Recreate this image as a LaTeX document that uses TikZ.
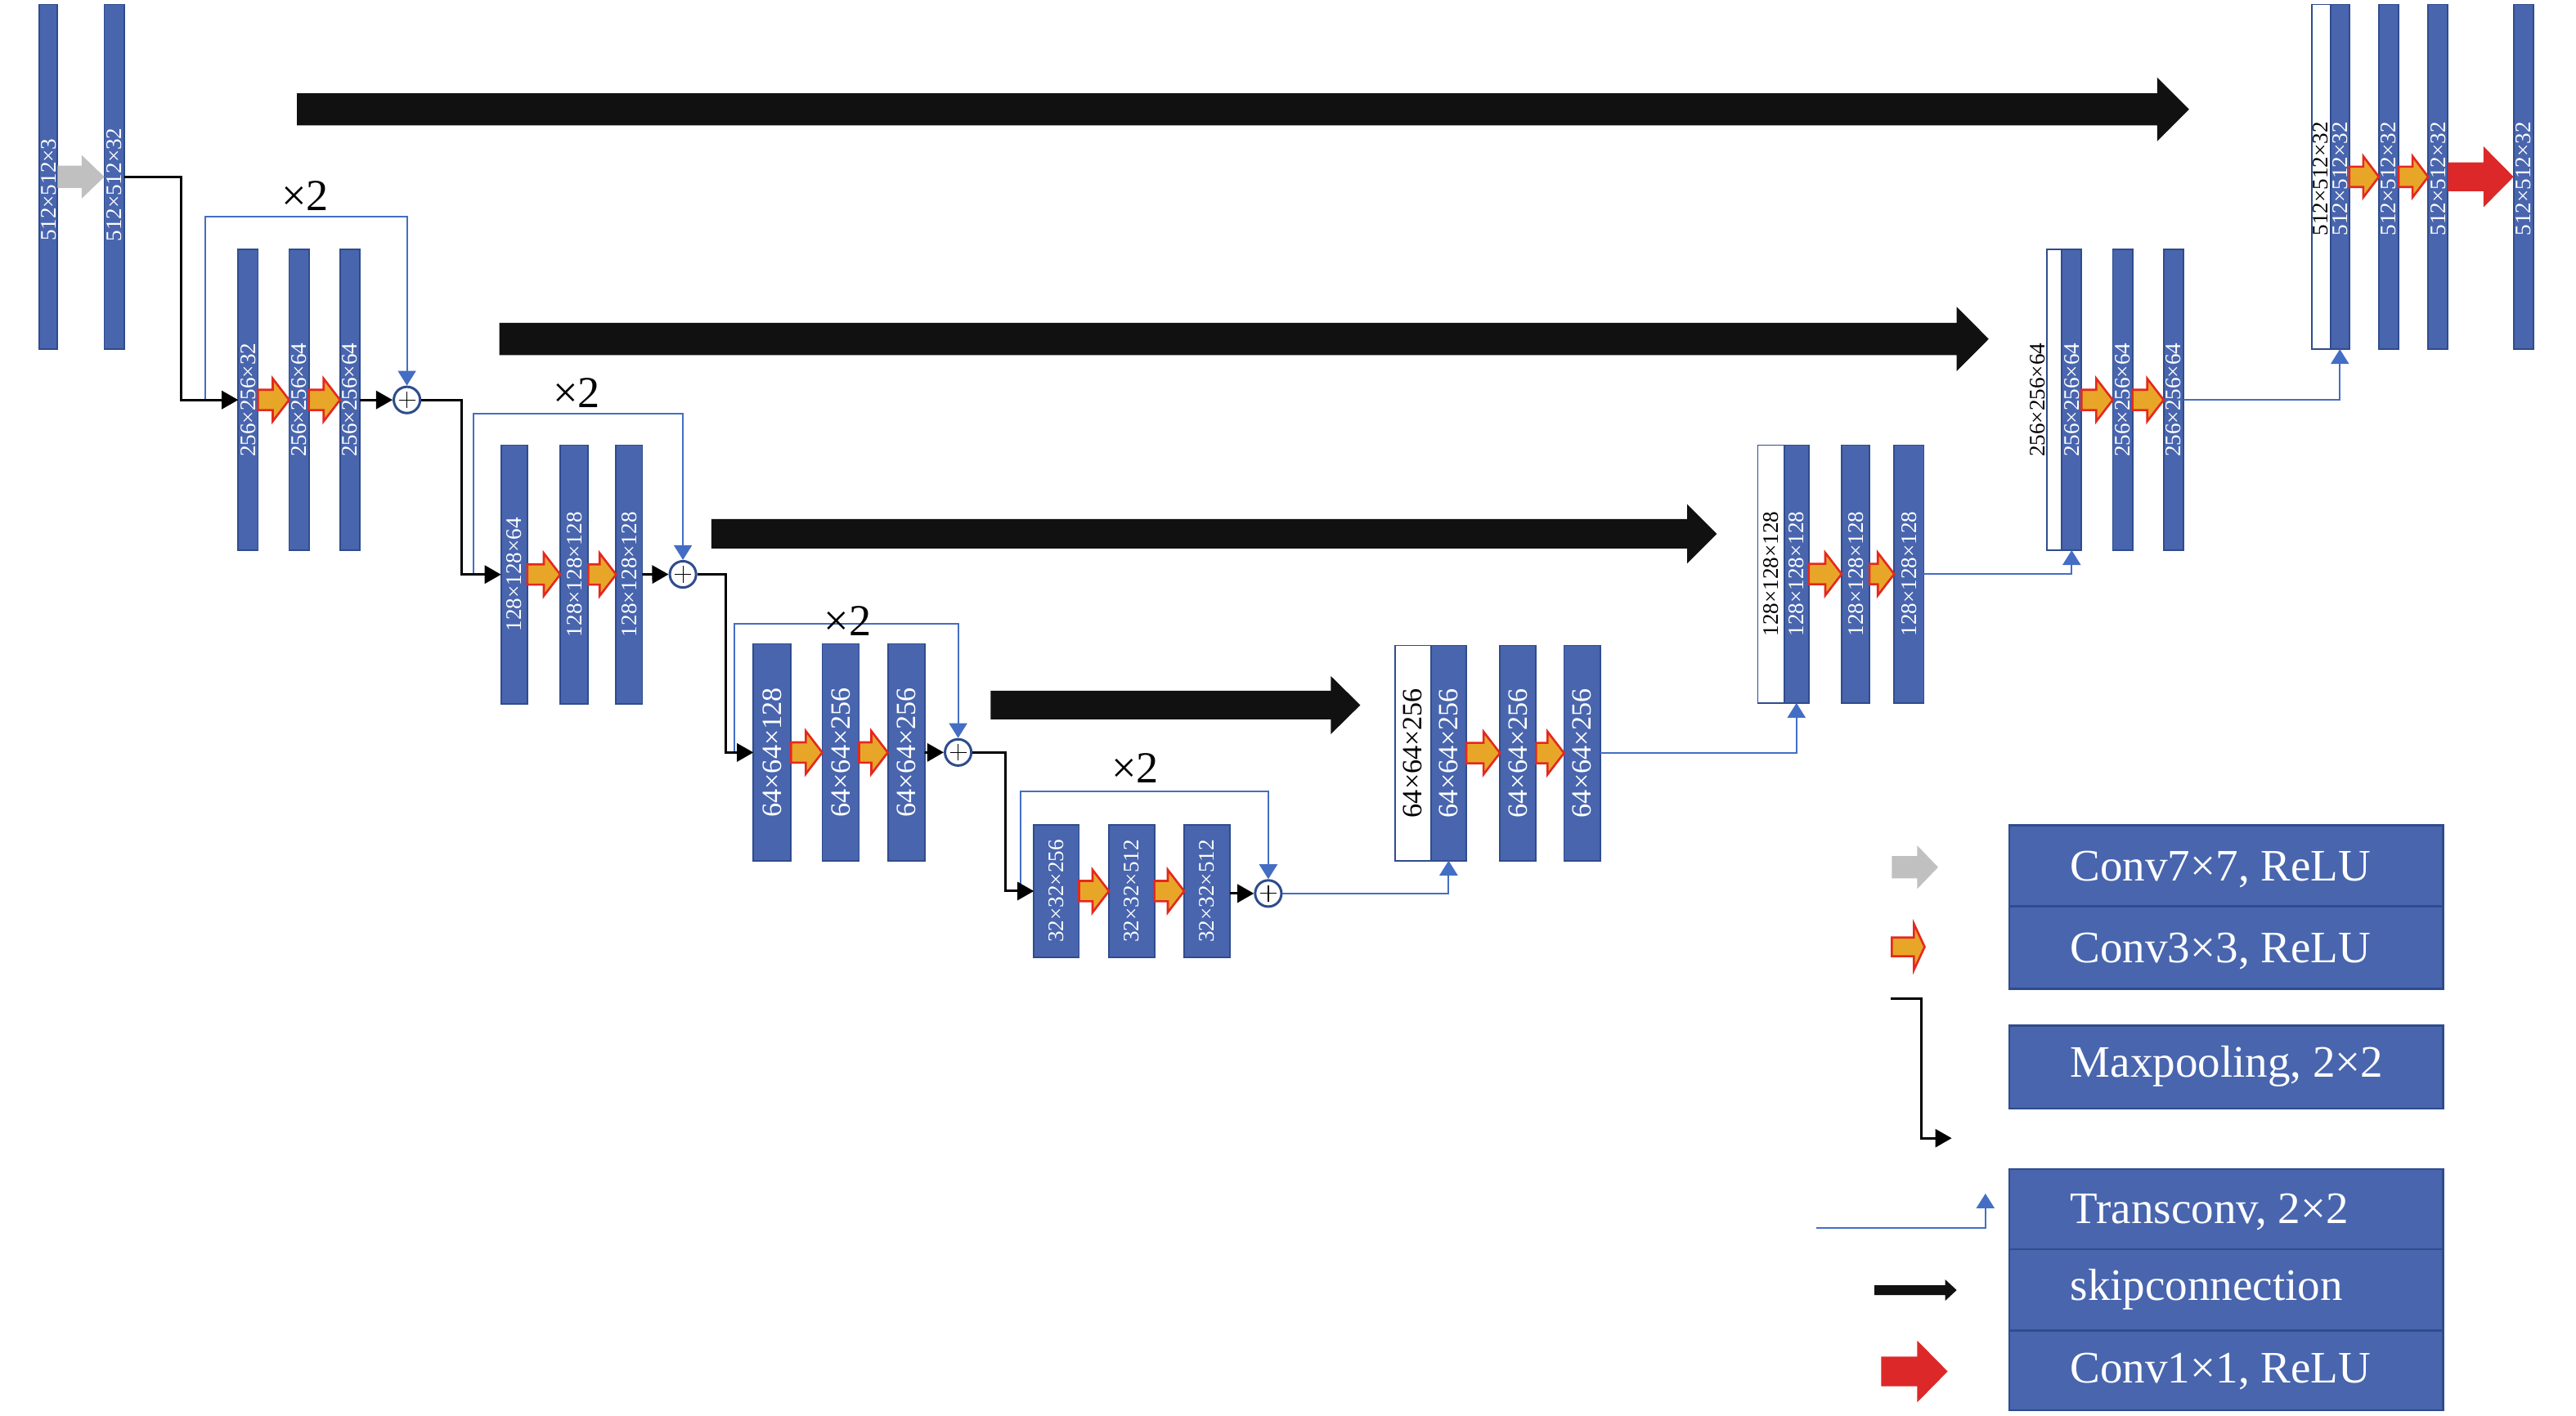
\documentclass[tikz,border=0pt]{standalone}
\usepackage{fontspec}
\setmainfont{Liberation Serif}
\usetikzlibrary{arrows.meta,calc}
\definecolor{barblue}{RGB}{72,101,174}
\definecolor{baredge}{RGB}{47,76,140}
\definecolor{linkblue}{RGB}{68,110,196}
\definecolor{convorange}{RGB}{232,166,40}
\definecolor{convred}{RGB}{228,40,32}
\definecolor{onered}{RGB}{220,40,40}
\definecolor{sevgray}{RGB}{192,192,192}
\definecolor{skipblack}{RGB}{17,17,17}
\newcommand{\fsA}{\fontsize{13.5pt}{14pt}\selectfont}
\newcommand{\fsB}{\fontsize{17pt}{18pt}\selectfont}
\newcommand{\fsLeg}{\fontsize{27.4pt}{30pt}\selectfont}
\newcommand{\fsTimes}{\fontsize{27pt}{30pt}\selectfont}
% feature map: [style]{name}{x1}{x2}{y1}{y2}
\newcommand{\fmap}[6][fmap]{\node[#1, minimum width={(#4-#3)*1pt}, minimum height={(#6-#5)*1pt}] (#2) at ({(#3+#4)/2},{(#5+#6)/2}) {};}
% block arrow by numbers: {style}{x1}{x2}{y}{shaft half}{head half}{head length}
\newcommand{\blockarr}[7]{\path[#1] (#2,{#4-#5}) -- ({#3-#7},{#4-#5}) -- ({#3-#7},{#4-#6}) -- (#3,#4) -- ({#3-#7},{#4+#6}) -- ({#3-#7},{#4+#5}) -- (#2,{#4+#5}) -- cycle;}
% block arrow between two nodes: {style}{from}{to}{shaft half}{head half}{head length}
\newcommand{\convarr}[6]{\path[#1] let \p1=(#2.east), \p2=(#3.west) in (\x1,{\y1+#4pt}) -- ({\x2-#6pt},{\y1+#4pt}) -- ({\x2-#6pt},{\y1+#5pt}) -- (\x2,\y1) -- ({\x2-#6pt},{\y1-#5pt}) -- ({\x2-#6pt},{\y1-#4pt}) -- (\x1,{\y1-#4pt}) -- cycle;}
\begin{document}
\begin{tikzpicture}[x=1pt,y=-1pt,
  fmap/.style={rectangle, draw=baredge, fill=barblue, line width=0.9pt, inner sep=0pt, outer sep=0pt},
  wmap/.style={rectangle, draw=baredge, fill=white, line width=0.9pt, inner sep=0pt, outer sep=0pt},
  legbox/.style={rectangle, draw=baredge, fill=barblue, line width=1.3pt, inner sep=0pt, outer sep=0pt},
  maplab/.style={rotate=90, text=white, inner sep=0pt},
  maplabk/.style={rotate=90, text=black, inner sep=0pt},
  legtext/.style={text=white, anchor=base west, inner sep=0pt, font=\fsLeg},
  times/.style={font=\fsTimes, inner sep=0pt},
  pool/.style={draw=black, line width=1.5pt, -{Triangle[length=10pt,width=11pt]}},
  res/.style={draw=linkblue, line width=1pt, -{Triangle[length=9pt,width=11pt]}},
  addnode/.style={circle, draw=baredge, fill=white, line width=1.5pt, minimum size=16pt, inner sep=0pt,
    path picture={\draw[black,line width=0.6pt] ($(path picture bounding box.center)+(-5pt,0pt)$) -- ++(10pt,0pt);
                  \draw[black,line width=0.6pt] ($(path picture bounding box.center)+(0pt,-5pt)$) -- ++(0pt,10pt);}},
  orangearr/.style={fill=convorange, draw=convred, line width=1.3pt, line join=miter},
  grayarr/.style={fill=sevgray},
  redarr/.style={fill=onered},
  skip/.style={fill=skipblack}
]
\useasboundingbox (0,0) rectangle (1568,862);

% ---------------- skip connections ----------------
\blockarr{skip}{180.7}{1332.5}{66.6}{9.8}{19.5}{19.5}
\blockarr{skip}{304}{1210.5}{206.4}{9.8}{19.6}{19.5}
\blockarr{skip}{433}{1045}{325}{9}{18}{18}
\blockarr{skip}{603}{828}{429.3}{8.7}{17.75}{18}

% ---------------- encoder ----------------
\fmap{e0a}{24}{35}{2.7}{212.6}
\fmap{e0b}{63.5}{75.5}{2.7}{212.6}
\fmap{e1a}{145}{157}{152}{335}
\fmap{e1b}{176}{188}{152}{335}
\fmap{e1c}{207}{219}{152}{335}
\fmap{e2a}{305}{321}{271}{428.6}
\fmap{e2b}{341}{358}{271}{428.6}
\fmap{e2c}{375}{391}{271}{428.6}
\fmap{e3a}{458.6}{481.5}{392}{524.3}
\fmap{e3b}{500.5}{522.9}{392}{524.3}
\fmap{e3c}{540.4}{562.8}{392}{524.3}
\fmap{e4a}{629.3}{656.8}{502.4}{582.7}
\fmap{e4b}{675}{702.7}{502.4}{582.7}
\fmap{e4c}{720.8}{748.6}{502.4}{582.7}

\node[maplab,font=\fsA] at (e0a.center |- 0,115.6) {512×512×3};
\node[maplab,font=\fsA] at (e0b.center |- 0,112.5) {512×512×32};
\node[maplab,font=\fsA] at (e1a) {256×256×32};
\node[maplab,font=\fsA] at (e1b) {256×256×64};
\node[maplab,font=\fsA] at (e1c) {256×256×64};
\node[maplab,font=\fsA] at (e2a) {128×128×64};
\node[maplab,font=\fsA] at (e2b) {128×128×128};
\node[maplab,font=\fsA] at (e2c) {128×128×128};
\node[maplab,font=\fsB] at (e3a) {64×64×128};
\node[maplab,font=\fsB] at (e3b) {64×64×256};
\node[maplab,font=\fsB] at (e3c) {64×64×256};
\node[maplab,font=\fsA] at (e4a) {32×32×256};
\node[maplab,font=\fsA] at (e4b) {32×32×512};
\node[maplab,font=\fsA] at (e4c) {32×32×512};

% add nodes
\node[addnode] (p1) at (247.7,243.5) {};
\node[addnode] (p2) at (415.7,349.7) {};
\node[addnode] (p3) at (583.2,458.1) {};
\node[addnode] (p4) at (772,544) {};

% residual loops
\draw[res] (125,243.5) |- (p1.north |- 0,132) -- (p1.north);
\draw[res] (288,349.7) |- (p2.north |- 0,252) -- (p2.north);
\draw[res] (447,458.1) |- (p3.north |- 0,380) -- (p3.north);
\draw[res] (621,542.5) |- (p4.north |- 0,482) -- (p4.north);

\node[times] (t1) at (185.7,119) {×2};
\node[times] (t2) at (351,239) {×2};
\node[times] (t3) at (516,378) {×2};
\node[times] (t4) at (691,467.5) {×2};

% maxpooling / flow lines
\draw[pool] (e0b.east) -- ++(35,0) |- (e1a.west);
\draw[pool] (e1c.east) -- (p1.west);
\draw[pool] (p1.east) -- ++(24.3,0) |- (e2a.west);
\draw[pool] (e2c.east) -- (p2.west);
\draw[pool] (p2.east) -- ++(17.3,0) |- (e3a.west);
\draw[pool] (e3c.east) -- (p3.west);
\draw[pool] (p3.east) -- ++(20,0) |- (e4a.west);
\draw[pool] (p4.west -| e4c.east) -- (p4.west);

% conv arrows encoder
\convarr{grayarr}{e0a}{e0b}{6.75}{13.25}{13.8}
\convarr{orangearr}{e1a}{e1b}{6.2}{13}{10}
\convarr{orangearr}{e1b}{e1c}{6.2}{13}{10}
\convarr{orangearr}{e2a}{e2b}{6.2}{13}{10}
\convarr{orangearr}{e2b}{e2c}{6.2}{13}{10}
\convarr{orangearr}{e3a}{e3b}{6.2}{13}{10}
\convarr{orangearr}{e3b}{e3c}{6.2}{13}{10}
\convarr{orangearr}{e4a}{e4b}{6.2}{13}{10}
\convarr{orangearr}{e4b}{e4c}{6.2}{13}{10}

% ---------------- decoder ----------------
\fmap[wmap]{d3w}{849}{871}{393}{524}
\fmap{d3a}{871}{892.5}{393}{524}
\fmap{d3b}{913}{935}{393}{524}
\fmap{d3c}{952}{974}{393}{524}
\fmap[wmap]{d2w}{1070}{1086}{271}{428}
\fmap{d2a}{1086}{1101}{271}{428}
\fmap{d2b}{1121}{1138}{271}{428}
\fmap{d2c}{1153}{1171}{271}{428}
\fmap[wmap]{d1w}{1246}{1255}{152}{335}
\fmap{d1a}{1255}{1267}{152}{335}
\fmap{d1b}{1286}{1298}{152}{335}
\fmap{d1c}{1317}{1329}{152}{335}
\fmap[wmap]{d0w}{1407}{1418.5}{2.7}{212.6}
\fmap{d0a}{1418.5}{1430}{2.7}{212.6}
\fmap{d0b}{1448}{1460}{2.7}{212.6}
\fmap{d0c}{1478}{1490}{2.7}{212.6}
\fmap{d0d}{1530}{1542}{2.7}{212.6}

\node[maplabk,font=\fsB] at (d3w) {64×64×256};
\node[maplab,font=\fsB] at (d3a) {64×64×256};
\node[maplab,font=\fsB] at (d3b) {64×64×256};
\node[maplab,font=\fsB] at (d3c) {64×64×256};
\node[maplabk,font=\fsA] at (d2w) {128×128×128};
\node[maplab,font=\fsA] at (d2a) {128×128×128};
\node[maplab,font=\fsA] at (d2b) {128×128×128};
\node[maplab,font=\fsA] at (d2c) {128×128×128};
\node[maplabk,font=\fsA] at (1240.5,243.5) {256×256×64};
\node[maplab,font=\fsA] at (d1a) {256×256×64};
\node[maplab,font=\fsA] at (d1b) {256×256×64};
\node[maplab,font=\fsA] at (d1c) {256×256×64};
\node[maplabk,font=\fsA] at (d0w.center |- 0,109) {512×512×32};
\node[maplab,font=\fsA] at (d0a.center |- 0,109) {512×512×32};
\node[maplab,font=\fsA] at (d0b.center |- 0,109) {512×512×32};
\node[maplab,font=\fsA] at (d0c.center |- 0,109) {512×512×32};
\node[maplab,font=\fsA] at (d0d.center |- 0,109) {512×512×32};

\convarr{orangearr}{d3a}{d3b}{6.2}{13}{10}
\convarr{orangearr}{d3b}{d3c}{6.2}{13}{10}
\convarr{orangearr}{d2a}{d2b}{6.2}{13}{10}
\convarr{orangearr}{d2b}{d2c}{6.2}{13}{10}
\convarr{orangearr}{d1a}{d1b}{6.2}{13}{10}
\convarr{orangearr}{d1b}{d1c}{6.2}{13}{10}
\convarr{orangearr}{d0a}{d0b}{6.2}{12.5}{9.5}
\convarr{orangearr}{d0b}{d0c}{6.2}{12.5}{9.5}
\convarr{redarr}{d0c}{d0d}{8.75}{18.5}{18.3}

% transposed convolutions
\draw[res] (p4.east) -| (d3a.south);
\draw[res] (d3c.east) -| (d2a.south);
\draw[res] (d2c.east) -| (d1a.south);
\draw[res] (d1c.east) -| (d0a.south);

% ---------------- legend ----------------
\fmap[legbox]{k1}{1223}{1487}{502.6}{551.8}
\fmap[legbox]{k2}{1223}{1487}{551.8}{602}
\fmap[legbox]{k3}{1223}{1487}{624.6}{675}
\fmap[legbox]{k4}{1223}{1487}{711.8}{760.6}
\fmap[legbox]{k5}{1223}{1487}{760.6}{810}
\fmap[legbox]{k6}{1223}{1487}{810}{858.6}
\node[legtext] at (1260,536.5) {Conv7×7, ReLU};
\node[legtext] at (1260,586.3) {Conv3×3, ReLU};
\node[legtext] at (1260,656) {Maxpooling, 2×2};
\node[legtext] at (1260,745) {Transconv, 2×2};
\node[legtext] at (1260,791.5) {skipconnection};
\node[legtext] at (1260,842) {Conv1×1, ReLU};

\blockarr{grayarr}{1151.5}{1179.7}{528}{6.8}{13.2}{12.7}
\blockarr{orangearr}{1151.5}{1171.5}{576.5}{5.7}{14}{6.5}
\coordinate (mp0) at (1150.6,608);
\coordinate (mp1) at (1188,693);
\draw[pool] (mp0) -| (1169.5,693) -- (mp1);
\coordinate (tc0) at (1105.5,747.6);
\coordinate (tc1) at (1208.5,726.7);
\draw[res] (tc0) -| (tc1);
\blockarr{skip}{1141}{1191}{785.5}{3}{6.5}{7}
\blockarr{redarr}{1145}{1185.5}{835}{9}{18.8}{18.5}
\end{tikzpicture}
\end{document}
